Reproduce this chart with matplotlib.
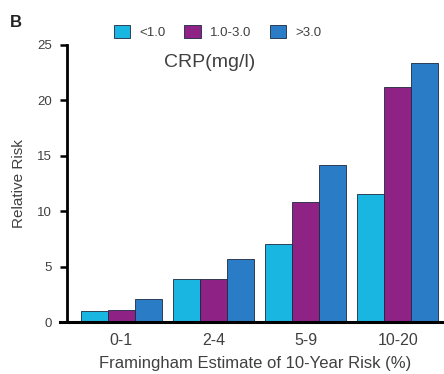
import matplotlib.pyplot as plt
import numpy as np

# - Data

risk_groups = ["0-1", "2-4", "5-9", "10-20"]
crp_levels = ["<1.0", "1.0-3.0", ">3.0"]
rr_low = [1.0, 3.9, 7.0, 11.5]
rr_mid = [1.1, 3.9, 10.8, 21.2]
rr_high = [2.1, 5.7, 14.1, 23.3]
y_ticks = [0, 5, 10, 15, 20, 25]

colors = ["#1ab6e2", "#8f2385", "#2b7cc6"]

# - Plot

plt.rcParams["font.family"] = ["Liberation Sans", "DejaVu Sans"]
text_color = "#404040"

fig = plt.figure(figsize=(4.44, 3.74), dpi=100)
ax = fig.add_axes([0.151, 0.139, 0.849, 0.742])

x = np.arange(len(risk_groups))
width = 0.293
handles = []
for i, vals in enumerate([rr_low, rr_mid, rr_high]):
    bars = ax.bar(x + (i - 1) * width, vals, width, color=colors[i],
                  edgecolor="#1c2840", linewidth=0.6, label=crp_levels[i])
    handles.append(bars)

ax.set_xlim(-0.59, 3.5)
ax.set_ylim(0, 25)
ax.set_yticks(y_ticks)
ax.set_xticks(x)
ax.set_xticklabels(risk_groups)

for side in ["top", "right"]:
    ax.spines[side].set_visible(False)
ax.spines["left"].set_linewidth(2)
ax.spines["bottom"].set_linewidth(2.2)
ax.spines["bottom"].set_bounds(-0.67, 3.5)

ax.tick_params(axis="y", length=5, width=1.8, pad=6, labelsize=9.5, labelcolor=text_color)
ax.tick_params(axis="x", length=0, pad=8, labelsize=11.5, labelcolor=text_color)

ax.set_ylabel("Relative Risk", fontsize=11, color=text_color, labelpad=8)
ax.set_xlabel("Framingham Estimate of 10-Year Risk (%)", fontsize=12, color=text_color, labelpad=6)

fig.legend(handles=handles, labels=crp_levels, loc="center", bbox_to_anchor=(0.49, 0.915),
           ncol=3, frameon=False, fontsize=9.5, handlelength=1.25, handleheight=1.1,
           columnspacing=1.4, handletextpad=0.7, labelcolor=text_color)
fig.text(0.473, 0.834, "CRP(mg/l)", fontsize=14, color=text_color, ha="center", va="center")
fig.text(0.022, 0.94, "B", fontsize=12, fontweight="bold", color="#222222", ha="left", va="center")

fig.savefig("out.png", dpi=100)
